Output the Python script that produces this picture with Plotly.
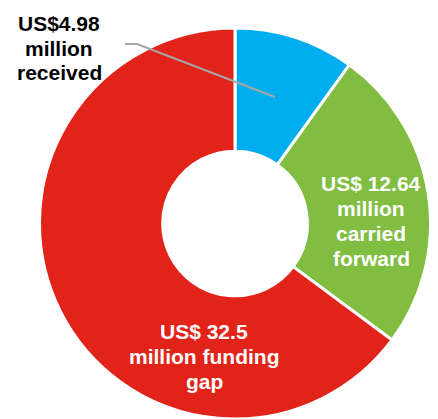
import plotly.graph_objects as go

labels = ["Received", "Carried forward", "Funding gap"]
values = [4.98, 12.64, 32.5]
colors = ["#00AEEF", "#80BD41", "#E2231A"]
text_lines = [["US$4.98", "million", "received"],
              ["US$ 12.64", "million", "carried", "forward"],
              ["US$ 32.5", "million funding", "gap"]]
text_colors = ["black", "white", "white"]

W, H = 438, 419

fig = go.Figure(go.Pie(
    labels=labels, values=values, sort=False, direction="clockwise", rotation=0,
    hole=0.37, marker=dict(colors=colors, line=dict(color="white", width=3)),
    textinfo="none", hoverinfo="label+value", showlegend=False,
    domain=dict(x=[38/W, 432/W], y=[0, 391/H]),
))

# label block centres (px) and line pitch
centers = [(59, 23), (371, 183), (204, 331)]
pitch = 25
font_family = "Liberation Sans, Arial, sans-serif"
for lines, col, (cx, cy) in zip(text_lines, text_colors, centers):
    for i, line in enumerate(lines):
        fig.add_annotation(x=cx/W, y=1-(cy + i*pitch)/H, xref="paper", yref="paper",
                           text="<b>" + line + "</b>", showarrow=False,
                           xanchor="center", yanchor="middle",
                           font=dict(color=col, family=font_family, size=21))

fig.add_shape(type="path", xref="paper", yref="paper",
              path=f"M {125/W} {1-44/H} L {137/W} {1-44/H} L {275/W} {1-97/H}",
              line=dict(color="#A6A6A6", width=2))

fig.update_layout(width=W, height=H, margin=dict(l=0, r=0, t=0, b=0),
                  paper_bgcolor="white", plot_bgcolor="white")
fig.write_html("out.html")
